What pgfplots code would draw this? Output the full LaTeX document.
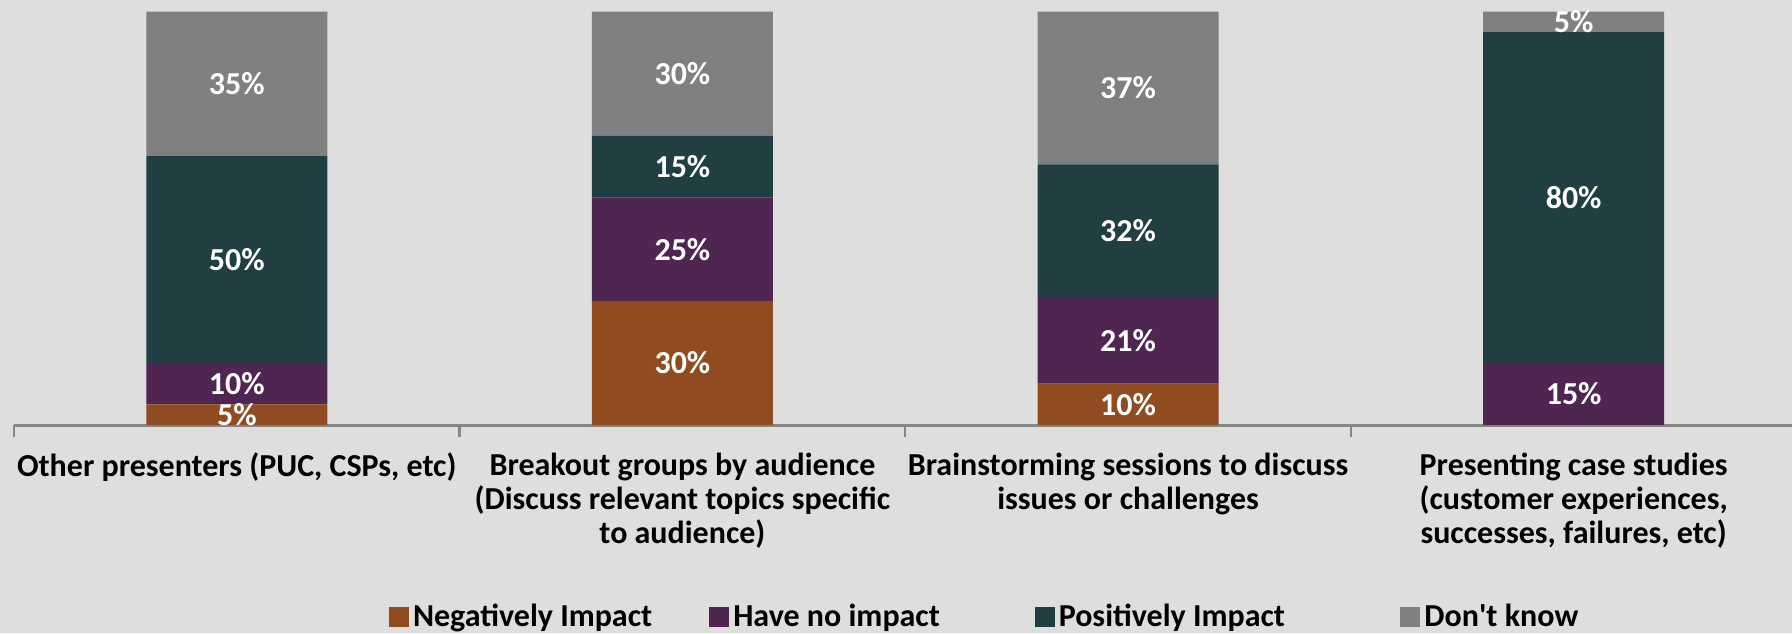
\documentclass[border=0pt]{standalone}
\usepackage{fontspec}
\setmainfont{Carlito}
\usepackage{pgfplots}
\pgfplotsset{compat=1.18}
\definecolor{bg}{HTML}{DEDEDE}
\definecolor{cNeg}{HTML}{914B21}
\definecolor{cNo}{HTML}{4E2651}
\definecolor{cPos}{HTML}{213F42}
\definecolor{cDK}{HTML}{808080}
\definecolor{axisgray}{HTML}{868686}
\begin{document}
\begin{tikzpicture}
\path[fill=bg, use as bounding box] (-7pt,-104pt) rectangle (889pt,212.5pt);
\begin{axis}[
  at={(0,0)}, anchor=south west,
  scale only axis, width=889pt, height=206.75pt,
  ybar stacked, bar width=90.5pt,
  xmin=-0.5, xmax=3.49, ymin=0, ymax=100,
  enlargelimits=false, clip=false,
  axis x line=bottom, axis y line=none,
  axis line style={-, draw=axisgray, line width=1.5pt},
  xtick={0,1,2,3},
  xticklabels={
    {Other presenters (PUC, CSPs, etc)},
    {Breakout groups by audience\\(Discuss relevant topics specific\\to audience)},
    {Brainstorming sessions to discuss\\issues or challenges},
    {Presenting case studies\\(customer experiences,\\successes, failures, etc)}},
  major tick length=0pt,
  minor xtick={-0.5,0.5,1.5,2.5,3.5},
  minor tick length=6pt,
  tick align=outside,
  minor x tick style={draw=axisgray, line width=1.2pt},
  ytick=\empty,
  xticklabel style={align=center, font=\bfseries\fontsize{16}{17}\selectfont, text=black, yshift=-10.5pt},
  point meta=rawy,
  /pgf/number format/assume math mode=true,
  nodes near coords={\pgfmathfloatifflags{\pgfplotspointmeta}{0}{}{\pgfmathprintnumber{\pgfplotspointmeta}\%}},
  every node near coord/.append style={anchor=center,
     text=white, font=\bfseries\fontsize{16}{18}\selectfont},
  legend style={at={(0.2107,-0.464)}, anchor=west, draw=none, fill=none, inner sep=0pt,
     legend columns=4, font=\bfseries\fontsize{16}{18}\selectfont,
     /tikz/column 2/.style={column sep=26.5pt},
     /tikz/column 4/.style={column sep=45.4pt},
     /tikz/column 6/.style={column sep=55.7pt}},
  legend cell align=left,
  legend image code/.code={\fill[#1] (0pt,-5pt) rectangle (10pt,5pt);},
]
\addplot[fill=cNeg, draw=none] coordinates {(0,5) (1,30) (2,10) (3,0)};
\addplot[fill=cNo, draw=none] coordinates {(0,10) (1,25) (2,21) (3,15)};
\addplot[fill=cPos, draw=none] coordinates {(0,50) (1,15) (2,32) (3,80)};
\addplot[fill=cDK, draw=none] coordinates {(0,35) (1,30) (2,37) (3,5)};
\legend{Negatively Impact, Have no impact, Positively Impact, Don\textquotesingle t know}
\end{axis}
\end{tikzpicture}
\end{document}
